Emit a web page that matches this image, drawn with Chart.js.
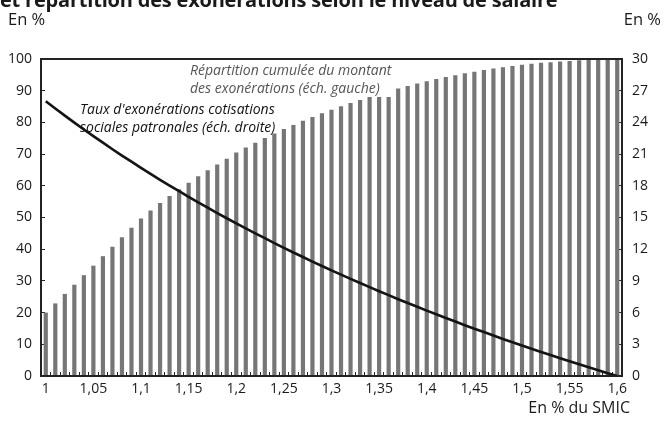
<!DOCTYPE html>
<html>
<head>
<meta charset="utf-8">
<script src="https://cdn.jsdelivr.net/npm/chart.js@4"></script>
<style>
  html, body { margin: 0; padding: 0; background: #fff; }
  body { width: 664px; height: 424px; position: relative; overflow: hidden; font-family: "Open Sans", sans-serif; color: #1a1a1a; }
  #wrap { position: absolute; left: 0; top: 0; width: 664px; height: 424px; }
  .t { position: absolute; white-space: nowrap; }
  #title { left: 0px; top: -12px; font-size: 20px; font-weight: bold; line-height: 24px; letter-spacing: -0.2px; }
  #unitL { left: 8px; top: 7px; font-size: 16.5px; }
  #unitR { right: 3px; top: 7px; font-size: 16.5px; }
  #xunit { right: 34px; top: 396px; font-size: 16px; }
  #ann1 { left: 190px; top: 61px; font-size: 14px; font-style: italic; color: #555; line-height: 18px; background: #fff; padding-right: 2px; }
  #ann2 { left: 80px; top: 100px; font-size: 14px; font-style: italic; color: #111; line-height: 18px; }
</style>
</head>
<body>
<div id="wrap"><canvas id="c" width="664" height="424"></canvas></div>
<div class="t" id="title">et répartition des exonérations selon le niveau de salaire</div>
<div class="t" id="unitL">En %</div>
<div class="t" id="unitR">En %</div>
<div class="t" id="xunit">En % du SMIC</div>
<div class="t" id="ann1">Répartition cumulée du montant<br>des exonérations (éch. gauche)</div>
<div class="t" id="ann2">Taux d'exonérations cotisations<br>sociales patronales (éch. droite)</div>
<script>
// Salary level, in multiples of the SMIC
const categories = [1.00,1.01,1.02,1.03,1.04,1.05,1.06,1.07,1.08,1.09,
  1.10,1.11,1.12,1.13,1.14,1.15,1.16,1.17,1.18,1.19,
  1.20,1.21,1.22,1.23,1.24,1.25,1.26,1.27,1.28,1.29,
  1.30,1.31,1.32,1.33,1.34,1.35,1.36,1.37,1.38,1.39,
  1.40,1.41,1.42,1.43,1.44,1.45,1.46,1.47,1.48,1.49,
  1.50,1.51,1.52,1.53,1.54,1.55,1.56,1.57,1.58,1.59,1.60];

// Cumulative distribution of the exemption amount (left scale, %)
const cumulShare = [20.0,22.9,25.9,28.8,31.8,34.8,37.8,40.8,43.8,46.8,
  49.7,52.2,54.6,56.8,58.9,61.0,63.0,64.9,66.7,68.5,
  70.5,72.1,73.6,75.1,76.5,77.9,79.2,80.5,81.7,82.9,
  84.0,85.1,86.1,87.1,88.1,89.0,89.9,90.7,91.5,92.3,
  93.0,93.7,94.3,94.9,95.5,96.0,96.5,97.0,97.4,97.8,
  98.2,98.5,98.8,99.0,99.2,99.4,99.6,99.7,99.8,99.9,100];

// Employer social contribution exemption rate (right scale, %)
const exemptionRate = [26.00,25.31,24.64,23.98,23.33,22.70,22.08,21.46,20.86,20.28,
  19.70,19.13,18.57,18.02,17.49,16.96,16.44,15.93,15.42,14.93,
  14.44,13.97,13.50,13.04,12.58,12.13,11.69,11.26,10.83,10.41,
  10.00,9.59,9.19,8.80,8.41,8.02,7.65,7.27,6.91,6.55,
  6.19,5.84,5.49,5.15,4.81,4.48,4.16,3.83,3.51,3.20,
  2.89,2.58,2.28,1.98,1.69,1.40,1.11,0.83,0.55,0.27,0.00];

// Tick labels shown on the x axis
const xTickLabels = ['1','1,05','1,1','1,15','1,2','1,25','1,3','1,35','1,4','1,45','1,5','1,55','1,6'];
const leftTicks = [0,10,20,30,40,50,60,70,80,90,100];
const rightTicks = [0,3,6,9,12,15,18,21,24,27,30];

const fmt = v => String(+v.toFixed(2)).replace('.', ',');
const labels = categories.map(fmt);

const AXIS = '#222';
const FONT = { family: '"Open Sans", sans-serif', size: 14 };

const framePlugin = {
  id: 'frame',
  afterDatasetsDraw(chart) {
    const { ctx, chartArea: a } = chart;
    ctx.save();
    ctx.strokeStyle = AXIS;
    ctx.lineWidth = 2;
    ctx.strokeRect(a.left, a.top, a.right - a.left, a.bottom - a.top);
    ctx.restore();
  }
};

new Chart(document.getElementById('c'), {
  data: {
    labels: labels,
    datasets: [
      {
        type: 'line',
        label: 'Taux d\'exonérations cotisations sociales patronales',
        data: exemptionRate,
        yAxisID: 'y2',
        borderColor: '#141414',
        borderWidth: 2.6,
        pointRadius: 0,
        tension: 0,
        order: 0
      },
      {
        type: 'bar',
        label: 'Répartition cumulée du montant des exonérations',
        data: cumulShare,
        yAxisID: 'y',
        backgroundColor: '#767676',
        categoryPercentage: 1,
        barPercentage: 0.44,
        order: 1
      }
    ]
  },
  options: {
    responsive: false,
    animation: false,
    devicePixelRatio: 1,
    layout: { padding: { left: 0, right: 0, top: 59, bottom: 0 } },
    plugins: { legend: { display: false }, tooltip: { enabled: false } },
    scales: {
      x: {
        type: 'category',
        offset: true,
        grid: { offset: true, drawOnChartArea: false, drawTicks: true, tickLength: -4, color: AXIS, lineWidth: 1 },
        border: { display: true, color: AXIS, width: 2 },
        ticks: {
          autoSkip: false, maxRotation: 0, minRotation: 0, padding: 9,
          color: '#1a1a1a', font: FONT,
          callback: function (val, idx) {
            const l = labels[idx];
            return xTickLabels.includes(l) ? l : '';
          }
        },
        afterFit(s) { s.height = 48; }
      },
      y: {
        position: 'left',
        min: 0, max: 100,
        grid: { drawOnChartArea: false, drawTicks: true, tickLength: -4, color: AXIS, lineWidth: 1 },
        border: { display: true, color: AXIS, width: 2 },
        ticks: { stepSize: 10, padding: 13, color: '#1a1a1a', font: FONT },
        afterBuildTicks(s) { s.ticks = leftTicks.map(v => ({ value: v })); },
        afterFit(s) { s.width = 41; }
      },
      y2: {
        position: 'right',
        min: 0, max: 30,
        grid: { drawOnChartArea: false, drawTicks: true, tickLength: -4, color: AXIS, lineWidth: 1 },
        border: { display: true, color: AXIS, width: 2 },
        ticks: { stepSize: 3, padding: 14, color: '#1a1a1a', font: FONT },
        afterBuildTicks(s) { s.ticks = rightTicks.map(v => ({ value: v })); },
        afterFit(s) { s.width = 42; }
      }
    }
  },
  plugins: [framePlugin]
});
</script>
</body>
</html>
